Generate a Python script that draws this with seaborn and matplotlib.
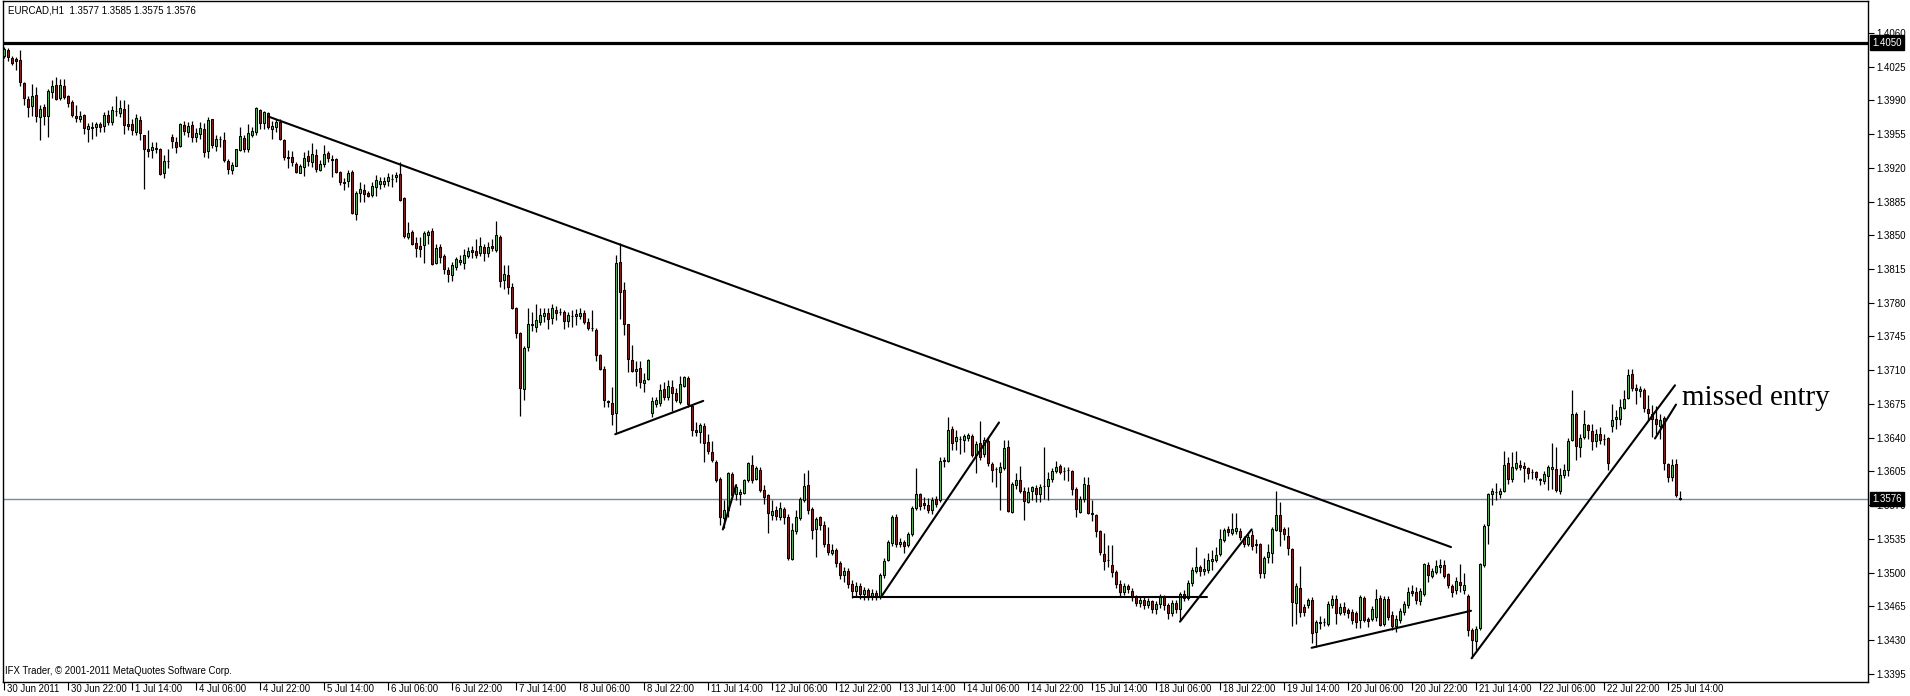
import matplotlib
matplotlib.use("Agg")
import matplotlib.pyplot as plt
import matplotlib.transforms as mtransforms
import numpy as np
import pandas as pd
import seaborn as sns

# ---------------- data (EURCAD H1, prices as 1 + pips/10000) ----------------
bar_open = [
    4036,4042,4034,4033,4032,4008,3991,3984,3996,3973,3983,3974,3999,4006,3992,4005,3994,3988,3974,3971,
    3975,3960,3962,3962,3965,3963,3975,3968,3979,3977,3981,3965,3965,3957,3970,3954,3939,3938,3940,3940,
    3915,3927,3952,3947,3943,3964,3957,3964,3952,3955,3960,3937,3971,3943,3950,3949,3927,3918,3922,3938,
    3951,3939,3954,3957,3980,3966,3977,3960,3962,3968,3949,3931,3931,3924,3915,3921,3932,3926,3933,3918,
    3924,3935,3929,3929,3916,3905,3906,3916,3872,3894,3897,3894,3892,3900,3903,3903,3906,3908,3910,3914,
    3889,3848,3853,3842,3839,3840,3850,3854,3821,3838,3828,3814,3809,3817,3822,3821,3828,3835,3834,3832,
    3838,3832,3839,3835,3848,3804,3809,3796,3775,3749,3690,3734,3757,3755,3760,3766,3769,3764,3772,3770,
    3770,3761,3766,3766,3766,3769,3760,3754,3752,3726,3711,3678,3676,3666,3822,3793,3758,3721,3709,3712,
    3697,3701,3666,3675,3676,3690,3682,3693,3686,3677,3694,3702,3673,3648,3646,3652,3635,3625,3615,3597,
    3557,3565,3602,3581,3582,3583,3596,3612,3597,3606,3586,3580,3560,3565,3558,3566,3558,3514,3543,3557,
    3575,3591,3566,3545,3558,3549,3530,3520,3523,3510,3497,3502,3488,3481,3486,3478,3482,3476,3479,3475,
    3497,3513,3531,3558,3530,3532,3529,3540,3567,3581,3572,3570,3565,3576,3575,3616,3616,3649,3636,3639,
    3638,3640,3642,3622,3634,3623,3637,3613,3607,3604,3608,3630,3563,3591,3596,3585,3573,3585,3588,3581,
    3590,3590,3597,3605,3611,3605,3606,3605,3587,3563,3576,3591,3562,3560,3543,3519,3513,3508,3501,3488,
    3480,3486,3481,3475,3468,3472,3466,3470,3462,3467,3475,3466,3458,3468,3462,3478,3474,3489,3502,3506,
    3502,3503,3512,3513,3519,3534,3545,3541,3543,3543,3536,3530,3539,3530,3530,3499,3516,3520,3544,3560,
    3545,3538,3524,3468,3484,3464,3466,3472,3438,3448,3449,3447,3466,3473,3458,3464,3461,3459,3458,3451,
    3474,3452,3452,3454,3474,3447,3473,3456,3444,3451,3459,3466,3481,3480,3470,3478,3508,3496,3501,3506,
    3508,3498,3486,3482,3490,3482,3476,3440,3429,3442,3508,3549,3581,3584,3582,3585,3614,3597,3608,3612,
    3611,3608,3604,3604,3597,3595,3600,3607,3607,3585,3601,3606,3638,3665,3630,3641,3653,3647,3637,3644,
    3639,3640,3652,3659,3659,3671,3681,3706,3692,3688,3689,3670,3665,3659,3652,3660,3613,3599,3613,3577,
]
bar_high = [
    4045,4044,4036,4035,4042,4009,3995,4007,4004,3985,3986,4002,4011,4014,4012,4012,3996,3990,3985,3979,
    3976,3966,3967,3967,3967,3978,3980,3984,3995,3990,3990,3986,3971,3976,3974,3954,3959,3947,3947,3941,
    3933,3940,3955,3952,3966,3969,3968,3969,3961,3967,3966,3973,3971,3954,3953,3957,3929,3926,3940,3962,
    3954,3965,3962,3983,3981,3979,3978,3969,3971,3971,3950,3938,3937,3926,3924,3936,3938,3946,3940,3928,
    3944,3937,3933,3930,3917,3909,3918,3918,3896,3905,3903,3896,3905,3913,3910,3910,3915,3914,3916,3926,
    3890,3864,3855,3848,3848,3854,3855,3858,3841,3841,3831,3817,3822,3827,3829,3836,3838,3839,3846,3848,
    3841,3843,3846,3865,3850,3819,3819,3800,3776,3750,3735,3774,3770,3779,3775,3774,3774,3779,3777,3775,
    3772,3770,3772,3773,3774,3772,3764,3772,3754,3727,3714,3679,3693,3830,3842,3801,3758,3736,3719,3720,
    3707,3722,3682,3682,3696,3698,3700,3700,3692,3704,3704,3704,3675,3656,3655,3655,3644,3637,3617,3599,
    3575,3604,3604,3592,3587,3597,3615,3622,3611,3610,3591,3582,3575,3569,3573,3568,3561,3551,3565,3578,
    3603,3606,3568,3558,3559,3553,3547,3530,3525,3512,3506,3505,3492,3490,3489,3485,3484,3483,3482,3499,
    3515,3534,3560,3561,3536,3534,3542,3569,3608,3583,3578,3577,3578,3579,3620,3620,3661,3652,3648,3642,
    3644,3645,3644,3637,3657,3641,3641,3615,3610,3615,3638,3638,3594,3603,3611,3589,3589,3590,3591,3592,
    3630,3604,3608,3616,3613,3609,3610,3606,3589,3579,3599,3599,3575,3561,3544,3541,3529,3529,3503,3492,
    3489,3488,3484,3477,3476,3475,3474,3472,3470,3478,3477,3468,3471,3472,3480,3482,3492,3506,3527,3508,
    3515,3520,3523,3527,3545,3546,3548,3562,3562,3546,3538,3540,3544,3535,3531,3517,3530,3547,3585,3573,
    3547,3547,3525,3489,3507,3467,3474,3475,3451,3455,3453,3470,3477,3477,3468,3469,3463,3462,3460,3477,
    3476,3454,3465,3483,3477,3476,3476,3460,3456,3463,3470,3485,3487,3485,3484,3510,3511,3505,3513,3514,
    3513,3500,3488,3495,3509,3500,3478,3442,3444,3510,3550,3583,3588,3593,3588,3626,3620,3625,3626,3617,
    3615,3610,3607,3605,3598,3605,3612,3634,3630,3608,3613,3640,3689,3667,3644,3669,3654,3654,3649,3651,
    3644,3641,3675,3669,3680,3689,3711,3711,3696,3694,3691,3684,3674,3673,3664,3662,3614,3618,3618,3585,
]
bar_low = [
    4034,4031,4027,4021,4005,3985,3973,3974,3968,3949,3964,3952,3992,3990,3990,3991,3983,3973,3967,3967,
    3955,3947,3950,3953,3957,3957,3964,3964,3974,3973,3955,3959,3954,3954,3949,3898,3931,3930,3935,3913,
    3909,3920,3941,3935,3942,3954,3952,3947,3947,3950,3931,3930,3941,3937,3942,3926,3914,3914,3922,3937,
    3936,3936,3952,3954,3960,3960,3960,3950,3957,3949,3928,3920,3922,3915,3915,3911,3922,3921,3916,3917,
    3921,3926,3910,3915,3902,3897,3900,3872,3866,3884,3884,3890,3890,3891,3898,3900,3901,3900,3905,3886,
    3847,3846,3840,3827,3827,3821,3841,3819,3820,3821,3810,3802,3803,3814,3819,3815,3826,3826,3826,3828,
    3823,3827,3834,3833,3796,3794,3789,3773,3743,3662,3679,3730,3751,3750,3757,3760,3753,3758,3762,3767,
    3753,3755,3755,3757,3763,3758,3752,3751,3720,3710,3672,3672,3653,3645,3763,3746,3708,3708,3694,3691,
    3687,3700,3661,3672,3673,3679,3679,3668,3677,3675,3693,3672,3642,3642,3634,3615,3623,3615,3594,3549,
    3546,3558,3578,3575,3570,3581,3594,3593,3596,3584,3571,3541,3554,3554,3555,3550,3513,3513,3540,3554,
    3573,3561,3535,3516,3544,3527,3518,3518,3506,3493,3490,3484,3474,3476,3473,3472,3471,3472,3472,3473,
    3494,3512,3528,3527,3526,3520,3526,3538,3565,3565,3566,3562,3561,3568,3573,3610,3615,3627,3627,3623,
    3625,3637,3620,3603,3617,3620,3611,3594,3589,3565,3606,3563,3562,3587,3583,3554,3572,3575,3573,3573,
    3576,3575,3594,3603,3602,3596,3595,3580,3558,3562,3573,3561,3553,3537,3518,3503,3506,3495,3484,3476,
    3477,3479,3470,3465,3464,3462,3463,3458,3457,3463,3461,3452,3455,3458,3450,3470,3472,3486,3500,3496,
    3497,3500,3503,3511,3517,3532,3538,3539,3540,3534,3527,3528,3523,3520,3494,3494,3510,3510,3543,3528,
    3534,3518,3444,3447,3454,3455,3463,3427,3423,3441,3445,3445,3463,3447,3456,3456,3453,3447,3442,3442,
    3449,3443,3450,3450,3444,3445,3451,3440,3438,3448,3456,3463,3476,3467,3466,3476,3490,3494,3498,3500,
    3494,3484,3475,3478,3480,3478,3434,3411,3420,3440,3506,3530,3570,3575,3577,3584,3592,3594,3606,3606,
    3594,3597,3597,3596,3591,3592,3586,3587,3584,3582,3598,3600,3636,3617,3620,3639,3639,3627,3630,3633,
    3632,3606,3646,3649,3653,3670,3680,3688,3675,3682,3667,3658,3641,3644,3639,3606,3594,3595,3578,3575,
]
bar_close = [
    4043,4035,4029,4031,4009,3992,3983,3995,3974,3981,3974,4000,4005,3991,4006,3993,3987,3975,3972,3974,
    3961,3963,3961,3965,3962,3975,3968,3980,3979,3982,3964,3963,3959,3972,3956,3940,3937,3942,3941,3914,
    3927,3927,3948,3942,3965,3958,3963,3952,3956,3961,3936,3970,3944,3950,3950,3928,3919,3923,3939,3953,
    3939,3956,3958,3982,3966,3978,3962,3963,3968,3950,3931,3930,3926,3916,3922,3930,3927,3934,3919,3924,
    3934,3930,3928,3916,3905,3904,3915,3873,3894,3898,3893,3891,3901,3907,3906,3906,3910,3908,3913,3887,
    3849,3852,3841,3837,3836,3852,3853,3820,3837,3827,3815,3810,3819,3825,3824,3830,3834,3833,3830,3839,
    3832,3838,3837,3850,3803,3810,3796,3775,3749,3691,3733,3758,3758,3762,3767,3769,3763,3774,3769,3770,
    3761,3767,3766,3768,3769,3760,3754,3754,3726,3711,3679,3677,3665,3821,3791,3758,3722,3709,3711,3698,
    3700,3721,3678,3679,3689,3682,3694,3686,3679,3696,3703,3675,3648,3646,3653,3634,3626,3617,3596,3558,
    3565,3603,3580,3589,3584,3596,3614,3596,3608,3586,3578,3562,3564,3559,3567,3558,3515,3544,3558,3576,
    3590,3565,3544,3556,3549,3530,3521,3523,3510,3497,3502,3488,3481,3486,3478,3482,3476,3479,3475,3497,
    3512,3532,3558,3530,3532,3528,3540,3567,3582,3569,3570,3565,3575,3571,3616,3617,3648,3634,3641,3639,
    3642,3643,3622,3633,3620,3638,3614,3606,3607,3609,3629,3564,3592,3596,3585,3574,3584,3589,3581,3589,
    3590,3597,3605,3610,3604,3605,3606,3587,3566,3576,3592,3562,3561,3543,3521,3512,3513,3501,3488,3480,
    3486,3483,3475,3468,3472,3466,3470,3462,3467,3475,3466,3458,3468,3462,3478,3474,3489,3503,3506,3502,
    3504,3513,3514,3518,3535,3544,3542,3545,3546,3537,3530,3537,3528,3529,3499,3515,3521,3545,3560,3543,
    3540,3525,3469,3486,3459,3459,3471,3437,3449,3449,3449,3467,3473,3458,3464,3459,3458,3451,3449,3475,
    3451,3450,3462,3473,3446,3473,3454,3445,3452,3460,3467,3480,3479,3471,3481,3509,3497,3502,3507,3508,
    3496,3487,3480,3491,3487,3487,3440,3430,3441,3509,3548,3582,3585,3584,3585,3612,3597,3610,3614,3610,
    3608,3603,3604,3599,3596,3602,3609,3609,3586,3601,3606,3636,3664,3631,3640,3654,3648,3637,3644,3638,
    3639,3614,3658,3661,3672,3680,3705,3692,3689,3690,3671,3666,3659,3654,3658,3614,3599,3612,3580,3576,
]

x_tick_labels = ["30 Jun 2011", "30 Jun 22:00", "1 Jul 14:00", "4 Jul 06:00", "4 Jul 22:00",
                 "5 Jul 14:00", "6 Jul 06:00", "6 Jul 22:00", "7 Jul 14:00", "8 Jul 06:00",
                 "8 Jul 22:00", "11 Jul 14:00", "12 Jul 06:00", "12 Jul 22:00", "13 Jul 14:00",
                 "14 Jul 06:00", "14 Jul 22:00", "15 Jul 14:00", "18 Jul 06:00", "18 Jul 22:00",
                 "19 Jul 14:00", "20 Jul 06:00", "20 Jul 22:00", "21 Jul 14:00", "22 Jul 06:00",
                 "22 Jul 22:00", "25 Jul 14:00"]
x_tick_bars = [0, 16, 32, 48, 64, 80, 96, 112, 128, 144, 160, 176, 192, 208, 224,
               240, 256, 272, 288, 304, 320, 336, 352, 368, 384, 400, 416]
y_tick_values = [1.4060, 1.4025, 1.3990, 1.3955, 1.3920, 1.3885, 1.3850, 1.3815, 1.3780, 1.3745,
                 1.3710, 1.3675, 1.3640, 1.3605, 1.3570, 1.3535, 1.3500, 1.3465, 1.3430, 1.3395]

# hand-drawn trend lines: (bar, price) -> (bar, price)
trend_lines = [
    ((66.0, 1.39733), (361.75, 1.35264)),
    ((152.8, 1.36435), (174.8, 1.36781)),
    ((179.7, 1.35447), (183.0, 1.35906)),
    ((219.25, 1.34745), (248.75, 1.36557)),
    ((212.25, 1.34745), (300.7, 1.34745)),
    ((294.0, 1.34490), (311.9, 1.35447)),
    ((326.9, 1.34219), (366.75, 1.34603)),
    ((366.9, 1.34110), (417.75, 1.36943)),
    ((412.75, 1.36391), (418.0, 1.36743)),
]
level_line = 1.4050
last_price = 1.3576
title_text = "EURCAD,H1  1.3577 1.3585 1.3575 1.3576"
note_text = "missed entry"
note_pos = (419.4, 1.36736)

# ---------------- build frame ----------------
df = pd.DataFrame({
    "bar": np.arange(len(bar_close)),
    "open": 1 + np.array(bar_open) / 10000.0,
    "high": 1 + np.array(bar_high) / 10000.0,
    "low": 1 + np.array(bar_low) / 10000.0,
    "close": 1 + np.array(bar_close) / 10000.0,
})

sns.set_theme(style="white")
plt.rcParams["font.family"] = ["Liberation Sans", "DejaVu Sans"]

W, H, DPI = 1910, 696, 100
fig = plt.figure(figsize=(W / DPI, H / DPI), dpi=DPI)
fig.patch.set_facecolor("white")
left_px, right_px, top_px, bottom_px = 2.7, 1868.0, 0.5, 682.0
ax = fig.add_axes([left_px / W, 1 - bottom_px / H, (right_px - left_px) / W, (bottom_px - top_px) / H])
ax.set_facecolor("white")

bull = df["close"] > df["open"]
bear = df["close"] < df["open"]
body_col = np.where(bull, "#2ad62a", np.where(bear, "#d00000", "black"))

# wicks
ax.vlines(df["bar"], df["low"], df["high"], color="black", linewidth=0.9, zorder=2)
# bodies
body_bottom = np.minimum(df["open"], df["close"])
body_height = (df["open"] - df["close"]).abs()
ax.bar(df["bar"], body_height, bottom=body_bottom, width=0.62, color=body_col,
       edgecolor="black", linewidth=0.75, zorder=3)

# price lines
ax.axhline(last_price, color="#7d8896", linewidth=1.0, zorder=1)
ax.axhline(level_line, color="black", linewidth=2.3, zorder=5)

# trend lines
for (x0, y0), (x1, y1) in trend_lines:
    sns.lineplot(x=[x0, x1], y=[y0, y1], ax=ax, color="black", linewidth=1.5,
                 zorder=6, estimator=None, sort=False)

ax.set_xlim(-0.33, 466.0)
ax.set_ylim(1.33864, 1.40936)

for sp in ax.spines.values():
    sp.set_color("black")
    sp.set_linewidth(1.0)

# y axis on the right
ax.yaxis.tick_right()
ax.set_yticks(y_tick_values)
ax.set_yticklabels([f"{v:.4f}" for v in y_tick_values])
ax.tick_params(axis="y", direction="out", length=4, width=0.8, pad=2, labelsize=7.0,
               colors="black", right=True, left=False)

# x axis: ticks with left-aligned labels
ax.set_xticks(x_tick_bars)
ax.set_xticklabels([])
ax.tick_params(axis="x", direction="out", length=6, width=0.8, bottom=True, colors="black")
xtrans = mtransforms.blended_transform_factory(ax.transData, ax.transAxes) + \
    mtransforms.ScaledTranslation(2.5 / DPI, -2.5 / DPI, fig.dpi_scale_trans)
for b, lab in zip(x_tick_bars, x_tick_labels):
    ax.text(b, 0, lab, transform=xtrans, ha="left", va="top", fontsize=6.9, color="black",
            clip_on=False)

ax.set_xlabel("")
ax.set_ylabel("")
ax.grid(False)

# boxed price labels on right axis
ytrans = mtransforms.blended_transform_factory(ax.transAxes, ax.transData) + \
    mtransforms.ScaledTranslation(4.0 / DPI, 0, fig.dpi_scale_trans)
for val in (level_line, last_price):
    ax.text(1.0, val, f"{val:.4f}", transform=ytrans, ha="left", va="center", fontsize=7.0,
            color="white", clip_on=False, zorder=20,
            bbox=dict(boxstyle="square,pad=0.22", fc="black", ec="black"))

# header and footer texts
fig.text(7.5 / W, 1 - 10.5 / H, title_text, ha="left", va="center", fontsize=7.0, color="black")
fig.text(5.0 / W, 1 - 671.0 / H, "IFX Trader, \u00a9 2001-2011 MetaQuotes Software Corp.",
         ha="left", va="center", fontsize=6.9, color="black")

ax.text(note_pos[0], note_pos[1], note_text, ha="left", va="baseline",
        family=["Liberation Serif", "DejaVu Serif"], fontsize=21, color="black", zorder=7,
        clip_on=False)

fig.savefig("out.png", dpi=DPI, facecolor="white")
